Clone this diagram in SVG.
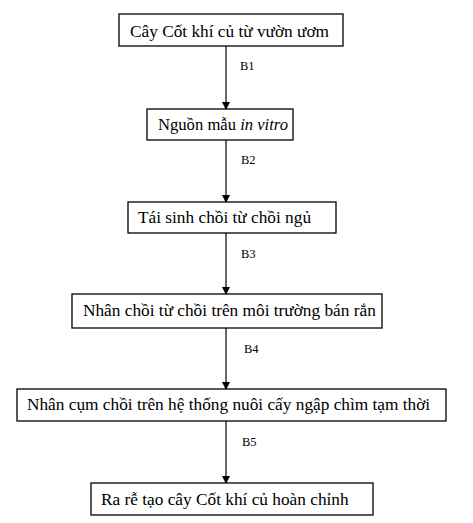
<svg xmlns="http://www.w3.org/2000/svg" width="473" height="523" viewBox="0 0 473 523">
<style>
rect.box{fill:#fff;stroke:#000;stroke-width:1.3}
text.t{font-family:"Liberation Serif","Times New Roman",serif;font-size:17.3px;fill:#000}
text.l{font-family:"Liberation Serif","Times New Roman",serif;font-size:12.5px;fill:#000}
line.c{stroke:#000;stroke-width:1.2}
</style>
<defs>
<marker id="ah" markerWidth="8" markerHeight="9" refX="7" refY="4.5" orient="auto" markerUnits="userSpaceOnUse">
<path d="M0,0.5 L8,4.5 L0,8.5 Z" fill="#000"/>
</marker>
</defs>
<rect width="473" height="523" fill="#fff"/>
<g id="connectors">
<line class="c" x1="226" y1="46" x2="226" y2="109" marker-end="url(#ah)"/>
<line class="c" x1="226" y1="140" x2="226" y2="202" marker-end="url(#ah)"/>
<line class="c" x1="226" y1="233" x2="226" y2="294" marker-end="url(#ah)"/>
<line class="c" x1="226" y1="328" x2="226" y2="389" marker-end="url(#ah)"/>
<line class="c" x1="226" y1="421" x2="226" y2="483" marker-end="url(#ah)"/>
<text class="l" x="240" y="70">B1</text>
<text class="l" x="241" y="164">B2</text>
<text class="l" x="241" y="258">B3</text>
<text class="l" x="244" y="353">B4</text>
<text class="l" x="242" y="446">B5</text>
</g>
<g id="n1">
<rect class="box" x="119" y="14" width="224" height="32"/>
<text class="t" x="130" y="37">Cây Cốt khí củ từ vườn ươm</text>
</g>
<g id="n2">
<rect class="box" x="147" y="109" width="146" height="31"/>
<text class="t" x="158" y="130" textLength="130" lengthAdjust="spacingAndGlyphs">Nguồn mẫu <tspan font-style="italic">in vitro</tspan></text>
</g>
<g id="n3">
<rect class="box" x="128" y="202" width="208" height="31"/>
<text class="t" x="138" y="223">Tái sinh chồi từ chồi ngủ</text>
</g>
<g id="n4">
<rect class="box" x="72" y="294" width="310" height="34"/>
<text class="t" x="83" y="316">Nhân chồi từ chồi trên môi trường bán rắn</text>
</g>
<g id="n5">
<rect class="box" x="17" y="389" width="429" height="32"/>
<text class="t" x="27" y="410">Nhân cụm chồi trên hệ thống nuôi cấy ngập chìm tạm thời</text>
</g>
<g id="n6">
<rect class="box" x="91" y="483" width="282" height="32"/>
<text class="t" x="101" y="505">Ra rễ tạo cây Cốt khí củ hoàn chỉnh</text>
</g>
</svg>
